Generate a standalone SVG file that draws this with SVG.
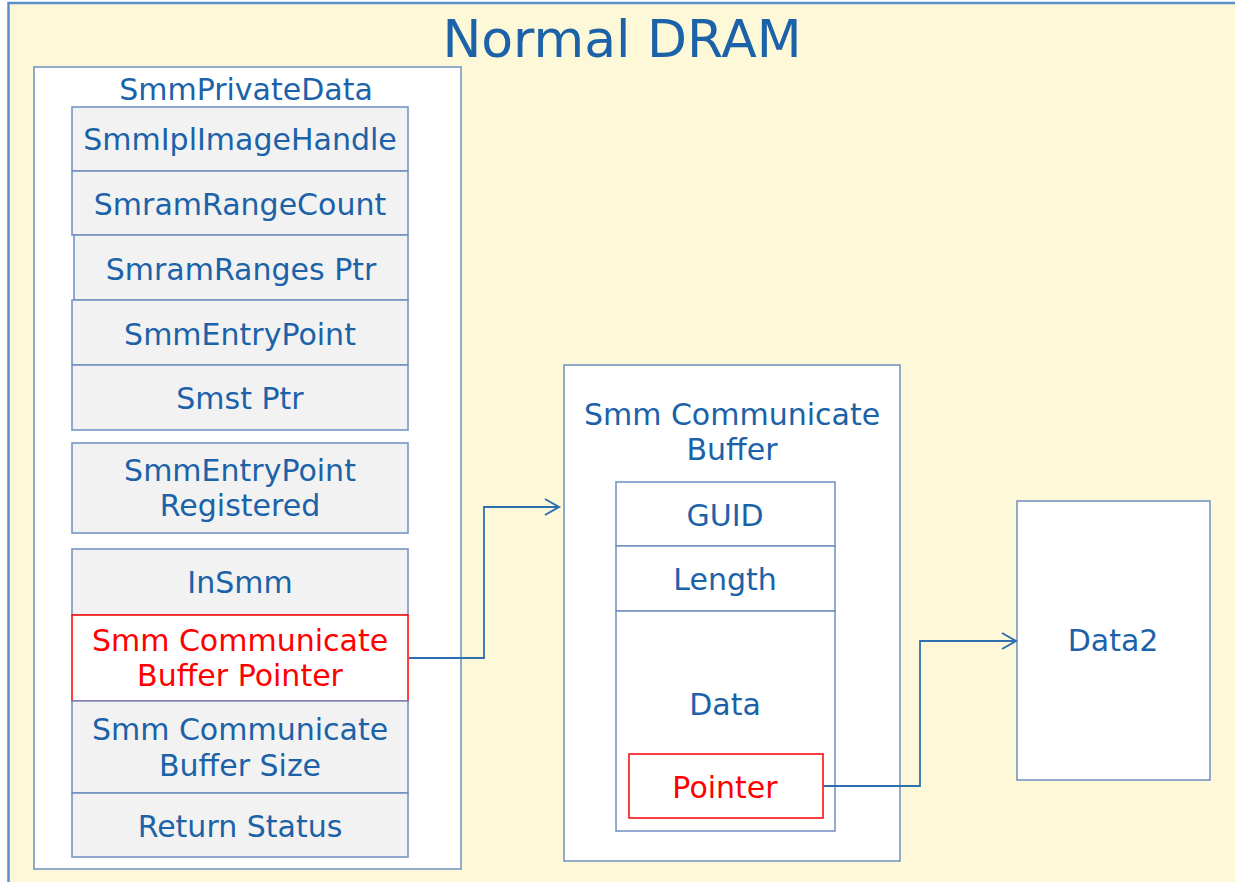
<svg xmlns="http://www.w3.org/2000/svg" width="1235" height="882" viewBox="0 0 1235 882">
<defs>
<style>
.t{font-family:"DejaVu Sans",Verdana,sans-serif;font-size:30px;fill:#1b62a8;text-anchor:middle}
.r{fill:#ff0000}
.cell{fill:#f2f2f2;stroke:#6f8fc0;stroke-width:1.5}
.box{fill:#ffffff;stroke:#6f8fc0;stroke-width:1.5}
.red{fill:#ffffff;stroke:#ff0000;stroke-width:1.5}
.conn{fill:none;stroke:#2e6fb0;stroke-width:1.8}
</style>
<marker id="ah" markerWidth="18" markerHeight="20" refX="15" refY="10" orient="auto" markerUnits="userSpaceOnUse">
<path d="M1,2 L15,10 L1,18" fill="none" stroke="#2e6fb0" stroke-width="2"/>
</marker>
</defs>
<rect x="0" y="0" width="1235" height="882" fill="#ffffff"/>
<g id="normal-dram">
<rect x="8.5" y="3" width="1240" height="900" fill="#fdf8d8" stroke="#5a8fc8" stroke-width="2.5"/>
<text class="t" x="622" y="57" style="font-size:52px">Normal DRAM</text>
</g>
<g id="smm-private-data">
<rect class="box" x="34" y="67" width="427" height="802"/>
<text class="t" x="246" y="100">SmmPrivateData</text>
</g>
<g id="smm-ipl-image-handle"><rect class="cell" x="72" y="107" width="336" height="64"/><text class="t" x="240" y="150">SmmIplImageHandle</text></g>
<g id="smram-range-count"><rect class="cell" x="72" y="171" width="336" height="64"/><text class="t" x="240" y="215">SmramRangeCount</text></g>
<g id="smram-ranges-ptr"><rect class="cell" x="74" y="235" width="334" height="65"/><text class="t" x="241" y="280">SmramRanges Ptr</text></g>
<g id="smm-entry-point"><rect class="cell" x="72" y="300" width="336" height="65"/><text class="t" x="240" y="345">SmmEntryPoint</text></g>
<g id="smst-ptr"><rect class="cell" x="72" y="365" width="336" height="65"/><text class="t" x="240" y="409">Smst Ptr</text></g>
<g id="smm-entry-point-registered"><rect class="cell" x="72" y="443" width="336" height="90"/><text class="t" x="240" y="481">SmmEntryPoint</text><text class="t" x="240" y="516">Registered</text></g>
<g id="in-smm"><rect class="cell" x="72" y="549" width="336" height="66"/><text class="t" x="240" y="593">InSmm</text></g>
<g id="smm-comm-buffer-pointer"><rect class="red" x="72" y="615" width="336" height="86"/><text class="t r" x="240" y="651">Smm Communicate</text><text class="t r" x="240" y="686">Buffer Pointer</text></g>
<g id="smm-comm-buffer-size"><rect class="cell" x="72" y="701" width="336" height="92"/><text class="t" x="240" y="740">Smm Communicate</text><text class="t" x="240" y="776">Buffer Size</text></g>
<g id="return-status"><rect class="cell" x="72" y="793" width="336" height="64"/><text class="t" x="240" y="837">Return Status</text></g>
<g id="smm-comm-buffer">
<rect class="box" x="564" y="365" width="336" height="496"/>
<text class="t" x="732" y="425">Smm Communicate</text>
<text class="t" x="732" y="460">Buffer</text>
</g>
<g id="guid"><rect class="box" x="616" y="482" width="219" height="64"/><text class="t" x="725" y="526">GUID</text></g>
<g id="length"><rect class="box" x="616" y="546" width="219" height="65"/><text class="t" x="725" y="590">Length</text></g>
<g id="data"><rect class="box" x="616" y="611" width="219" height="220"/><text class="t" x="725" y="715">Data</text></g>
<g id="pointer"><rect class="red" x="629" y="754" width="194" height="64"/><text class="t r" x="725" y="798">Pointer</text></g>
<g id="data2"><rect class="box" x="1017" y="501" width="193" height="279"/><text class="t" x="1113" y="651">Data2</text></g>
<g id="connectors">
<path class="conn" d="M409,658 H484 V507 H559" marker-end="url(#ah)"/>
<path class="conn" d="M823,786 H920 V641 H1016" marker-end="url(#ah)"/>
</g>
</svg>
